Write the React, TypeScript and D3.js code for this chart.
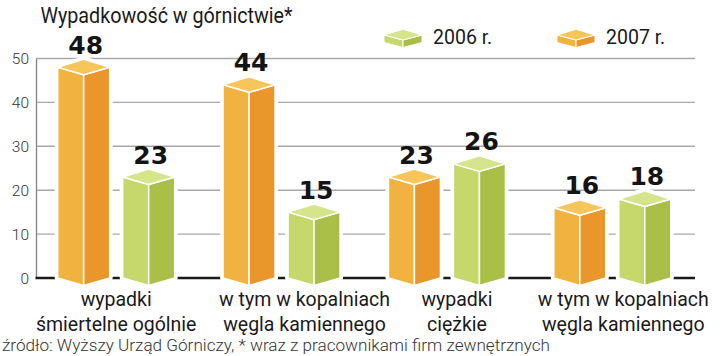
import React from "react";
import * as d3 from "d3";

const categoryLine1 = ["wypadki", "w tym w kopalniach", "wypadki", "w tym w kopalniach"];
const categoryLine2 = ["śmiertelne ogólnie", "węgla kamiennego", "ciężkie", "węgla kamiennego"];
const seriesNames = ["2007 r.", "2006 r."];
const values2007 = [48, 44, 23, 16];
const values2006 = [23, 15, 26, 18];
const yTicks = [0, 10, 20, 30, 40, 50];
const legendOrder = ["2006 r.", "2007 r."];
const title = "Wypadkowość w górnictwie*";
const source = "źródło: Wyższy Urząd Górniczy, * wraz z pracownikami firm zewnętrznych";

// layout / style (not data)
const W = 720, H = 356;
const labelShift = [0, 23, 10, 11];
const palette: Record<string, { top: string; left: string; right: string }> = {
  "2007 r.": { top: "#F7C55A", left: "#F2B240", right: "#E9962A" },
  "2006 r.": { top: "#D6E48B", left: "#C6D76B", right: "#AABF47" },
};
const FONT = "Roboto, 'DejaVu Sans', sans-serif";

function prism(cx: number, yTop: number, yBot: number, hw: number, dUp: number, dDown: number) {
  const back = [cx, yTop - dUp];
  const lt = [cx - hw, yTop];
  const rt = [cx + hw, yTop];
  const ft = [cx, yTop + dDown];
  const lb = [cx - hw, yBot];
  const rb = [cx + hw, yBot];
  const fb = [cx, yBot + dDown];
  const p = (pts: number[][]) => pts.map((q) => q.join(",")).join(" ");
  return {
    outline: p([back, rt, rb, fb, lb, lt]),
    top: p([back, rt, ft, lt]),
    left: p([lt, ft, fb, lb]),
    right: p([ft, rt, rb, fb]),
  };
}

export default function App() {
  const y = d3.scaleLinear().domain([0, 50]).range([278, 58.5]);
  const x0 = d3.scaleBand<number>().domain(d3.range(categoryLine1.length)).range([33.5, 695]);
  const x1 = d3.scaleBand<string>().domain(seriesNames).range([-65, 65]);
  const seriesValues: Record<string, number[]> = { "2007 r.": values2007, "2006 r.": values2006 };
  const axisLeft = 36.5;
  const axisRight = 695;
  const hw = 26;

  const bars: any[] = [];
  categoryLine1.forEach((_, i) => {
    seriesNames.forEach((s) => {
      const v = seriesValues[s][i];
      const cx = x0(i)! + x0.bandwidth() / 2 + x1(s)! + x1.bandwidth() / 2;
      bars.push({ i, s, v, cx });
    });
  });

  return (
    <svg width={W} height={H} style={{ position: "absolute", left: 0, top: 0, background: "#fff" }}>
      <rect x={0} y={0} width={W} height={H} fill="#fff" />
      <text x={40.5} y={23} fontFamily={FONT} fontSize={21.5} fill="#1a1a1a" textLength={252} lengthAdjust="spacingAndGlyphs">{title}</text>

      {/* gridlines */}
      {yTicks.filter((t) => t > 0).map((t) => (
        <line key={t} x1={axisLeft} x2={axisRight} y1={y(t)} y2={y(t)} stroke="#a8a8a8" strokeWidth={1.4} />
      ))}
      <line x1={axisLeft} x2={axisLeft} y1={y(50)} y2={y(0)} stroke="#888" strokeWidth={1.4} />
      <line x1={axisLeft - 1} x2={axisRight} y1={y(0)} y2={y(0)} stroke="#1a1a1a" strokeWidth={2.6} />
      {yTicks.map((t) => (
        <text key={t} x={29} y={y(t) + 5.5} textAnchor="end" fontFamily={FONT} fontWeight={300} fontSize={15.5} fill="#333">{t}</text>
      ))}

      {/* legend */}
      {legendOrder.map((s, k) => {
        const cx = k === 0 ? 403 : 576;
        const pr = prism(cx, 35, 42.5, 19, 5.7, 5);
        const c = palette[s];
        return (
          <g key={s}>
            <polygon points={pr.left} fill={c.left} stroke="#fff" strokeWidth={1} strokeLinejoin="round" />
            <polygon points={pr.right} fill={c.right} stroke="#fff" strokeWidth={1} strokeLinejoin="round" />
            <polygon points={pr.top} fill={c.top} stroke="#fff" strokeWidth={1} strokeLinejoin="round" />
            <text x={cx + 30} y={43.5} fontFamily={FONT} fontSize={19.5} fill="#1a1a1a">{s}</text>
          </g>
        );
      })}

      {/* bars */}
      {bars.map((b) => {
        const pr = prism(b.cx, y(b.v), y(0), hw, 8, 7.5);
        const c = palette[b.s];
        return (
          <g key={b.i + b.s}>
            <polygon points={pr.outline} fill="#fff" stroke="#fff" strokeWidth={6} strokeLinejoin="round" />
            <polygon points={pr.left} fill={c.left} stroke="#fff" strokeWidth={1.5} strokeLinejoin="round" />
            <polygon points={pr.right} fill={c.right} stroke="#fff" strokeWidth={1.5} strokeLinejoin="round" />
            <polygon points={pr.top} fill={c.top} stroke="#fff" strokeWidth={1.5} strokeLinejoin="round" />
            <text x={b.cx + 2} y={y(b.v) - 8 - 5.5} textAnchor="middle" fontFamily="'DejaVu Sans', sans-serif" fontWeight={700} fontSize={25} fill="#141414">{b.v}</text>
          </g>
        );
      })}

      {/* category labels */}
      {categoryLine1.map((l, i) => {
        const cx = x0(i)! + x0.bandwidth() / 2 + labelShift[i];
        return (
          <g key={i}>
            <text x={cx} y={306} textAnchor="middle" fontFamily={FONT} fontSize={19.5} fill="#1a1a1a">{l}</text>
            <text x={cx} y={330.5} textAnchor="middle" fontFamily={FONT} fontSize={19.5} fill="#1a1a1a">{categoryLine2[i]}</text>
          </g>
        );
      })}

      <text x={2} y={351} fontFamily={FONT} fontWeight={300} fontSize={16} fill="#333" textLength={548} lengthAdjust="spacingAndGlyphs">{source}</text>
    </svg>
  );
}
